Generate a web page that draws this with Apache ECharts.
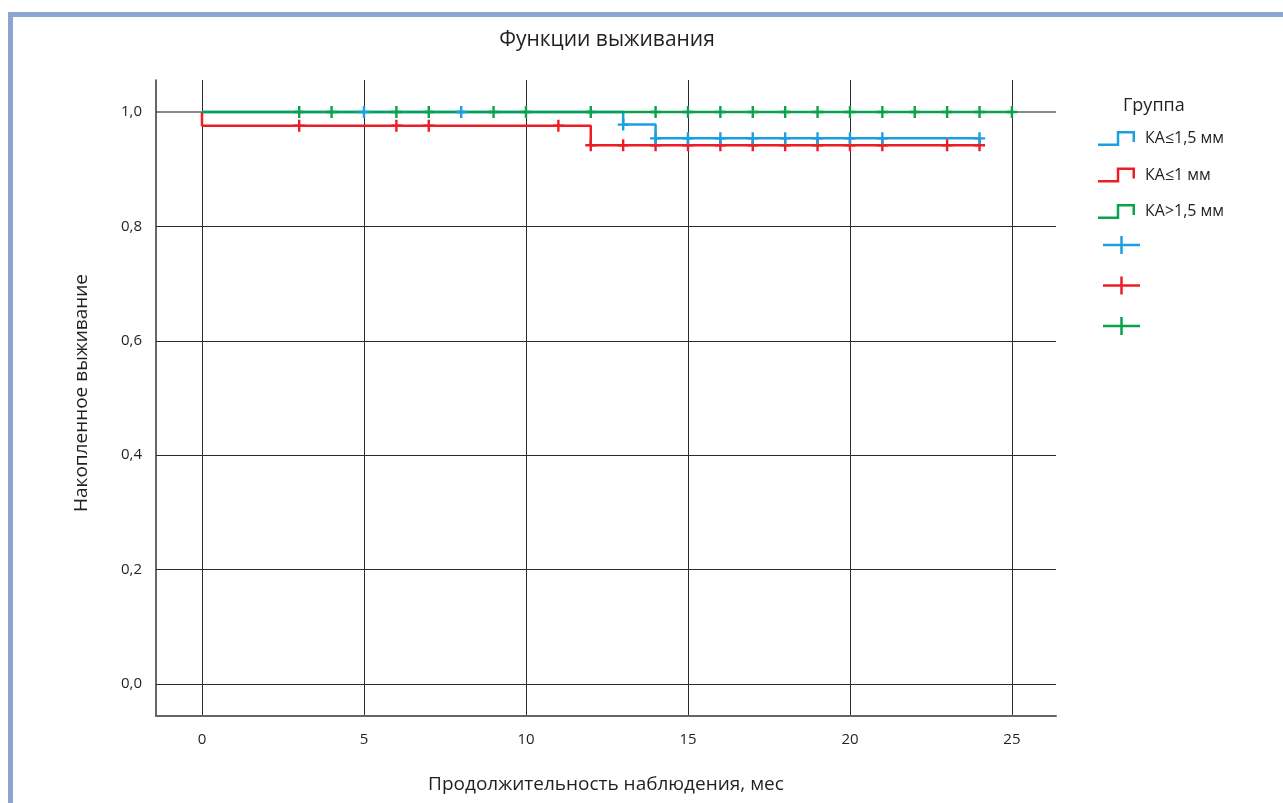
<!DOCTYPE html>
<html>
<head>
<meta charset="utf-8">
<script src="https://cdn.jsdelivr.net/npm/echarts@6/dist/echarts.min.js"></script>
<style>
html,body{margin:0;padding:0;background:#fff;}
#chart{width:1283px;height:803px;}
</style>
</head>
<body>
<div id="chart"></div>
<script>
// ---- data ----
const chartTitle = 'Функции выживания';
const xAxisName = 'Продолжительность наблюдения, мес';
const yAxisName = 'Накопленное выживание';
const legendTitle = 'Группа';
const xTicks = [0, 5, 10, 15, 20, 25];
const yTicks = [0, 0.2, 0.4, 0.6, 0.8, 1.0];
const groupNames = ['КА≤1,5 мм', 'КА≤1 мм', 'КА>1,5 мм'];
const censorNames = ['censor1', 'censor2', 'censor3'];

// step survival curves: [time, survival]
const blueCurve = [[0, 1], [13, 0.978], [14, 0.954], [24, 0.954]];
const redCurve = [[0, 1], [0, 0.976], [12, 0.942], [24, 0.942]];
const greenCurve = [[0, 1], [25, 1]];

// censored observations: [time, survival]
const blueCensored = [[5, 1], [8, 1], [13, 0.978], [14, 0.954], [15, 0.954], [16, 0.954], [17, 0.954], [18, 0.954], [19, 0.954], [20, 0.954], [21, 0.954], [24, 0.954]];
const redCensored = [[3, 0.976], [6, 0.976], [7, 0.976], [11, 0.976], [12, 0.942], [13, 0.942], [14, 0.942], [15, 0.942], [16, 0.942], [17, 0.942], [18, 0.942], [19, 0.942], [20, 0.942], [21, 0.942], [23, 0.942], [24, 0.942]];
const greenCensored = [[3, 1], [4, 1], [6, 1], [7, 1], [9, 1], [10, 1], [12, 1], [14, 1], [15, 1], [16, 1], [17, 1], [18, 1], [19, 1], [20, 1], [21, 1], [22, 1], [23, 1], [24, 1], [25, 1]];

// ---- styles ----
const colors = ['#1C9FDF', '#EE1D25', '#0AA24C'];
const FONT = '"Open Sans", "Noto Sans", sans-serif';
const TXT = '#231f20';
const stepIcon = 'path://M0,12.5L18.75,12.5L18.75,0L37,0L37,11L34.5,11L34.5,2.5L21.25,2.5L21.25,15L0,15Z';
const crossIcon = 'path://M17.25,0h2.5v7.75h17.25v2.5h-17.25v7.75h-2.5v-7.75h-17.25v-2.5h17.25z';
const censorSymbol = 'path://M4.3,0h2.4v4.8h4.3v2.4h-4.3v4.8h-2.4v-4.8h-4.3v-2.4h4.3z';

const curves = [blueCurve, redCurve, greenCurve];
const censored = [blueCensored, redCensored, greenCensored];

const fmt = v => v.toFixed(1).replace('.', ',');

const series = [];
// grid lines via markLine (drawn beneath the curves)
series.push({
  type: 'line', name: '_grid', data: [[0, 1]], showSymbol: false, silent: true,
  lineStyle: {width: 0}, z: 0,
  markLine: {
    silent: true, symbol: 'none', label: {show: false}, animation: false, z: 0,
    data: xTicks.map(v => ({xAxis: v, lineStyle: {color: '#2b2b2b', width: 1, type: 'solid'}}))
      .concat(yTicks.map(v => ({yAxis: v, lineStyle: {color: v === 1 ? '#8a8a8a' : '#2b2b2b', width: v === 1 ? 2 : 1, type: 'solid'}})))
  }
});
curves.forEach((c, i) => {
  series.push({
    type: 'line', name: groupNames[i], data: c, step: 'end', symbol: 'none', showSymbol: false,
    color: colors[i], itemStyle: {color: colors[i]},
    lineStyle: {color: colors[i], width: 2.5}, silent: true, z: 2
  });
});
[2, 1, 0].forEach(i => {
  series.push({
    type: 'scatter', name: censorNames[i], data: censored[i], symbol: censorSymbol, symbolSize: [11, 12],
    itemStyle: {color: colors[i], opacity: 1}, silent: true, z: 3
  });
});

const chart = echarts.init(document.getElementById('chart'), null, {renderer: 'canvas'});
chart.setOption({
  animation: false,
  backgroundColor: '#fff',
  title: [
    {text: chartTitle, left: 607, top: 30, textAlign: 'center', padding: 0,
     textStyle: {fontFamily: FONT, fontSize: 21, fontWeight: 'normal', color: TXT}},
    {text: legendTitle, left: 1123, top: 97, padding: 0,
     textStyle: {fontFamily: FONT, fontSize: 18, fontWeight: 'normal', color: TXT}}
  ],
  graphic: [
    {type: 'rect', shape: {x: 8, y: 12, width: 1275, height: 5}, style: {fill: '#8BA6D0'}, silent: true},
    {type: 'rect', shape: {x: 8, y: 12, width: 5, height: 791}, style: {fill: '#8BA6D0'}, silent: true}
  ],
  legend: [
    {
      orient: 'vertical', left: 1098, top: 130.5, padding: 0, itemWidth: 37, itemHeight: 15, itemGap: 20.5,
      selectedMode: false,
      data: groupNames.map(n => ({name: n, icon: stepIcon})),
      textStyle: {fontFamily: FONT, fontSize: 16, color: TXT, padding: [0, 0, 0, 5], lineHeight: 15}
    },
    {
      orient: 'vertical', left: 1103, top: 236, padding: 0, itemWidth: 37, itemHeight: 18, itemGap: 22.5,
      selectedMode: false,
      data: censorNames.map(n => ({name: n, icon: crossIcon})),
      formatter: () => '',
      textStyle: {fontSize: 10, lineHeight: 18}
    }
  ],
  grid: {left: 156, right: 227, top: 80, bottom: 87, containLabel: false},
  xAxis: {
    type: 'value', min: -1.42, max: 26.36,
    name: xAxisName, nameLocation: 'middle', nameGap: 59,
    nameTextStyle: {fontFamily: FONT, fontSize: 19, color: TXT},
    axisLine: {show: true, onZero: false, lineStyle: {color: '#666', width: 2}},
    axisTick: {show: false},
    splitLine: {show: false},
    axisLabel: {customValues: xTicks, margin: 16, fontFamily: FONT, fontSize: 15, color: TXT,
      formatter: v => String(v)}
  },
  yAxis: {
    type: 'value', min: -0.056, max: 1.056,
    name: yAxisName, nameLocation: 'middle', nameGap: 65, nameRotate: 90,
    nameTextStyle: {fontFamily: FONT, fontSize: 19, color: TXT, padding: [0, 0, 0, 10]},
    axisLine: {show: true, onZero: false, lineStyle: {color: '#333', width: 1.5}},
    axisTick: {show: false},
    splitLine: {show: false},
    axisLabel: {customValues: yTicks, margin: 14, fontFamily: FONT, fontSize: 15, color: TXT,
      formatter: v => fmt(v)}
  },
  series: series
});
</script>
</body>
</html>
